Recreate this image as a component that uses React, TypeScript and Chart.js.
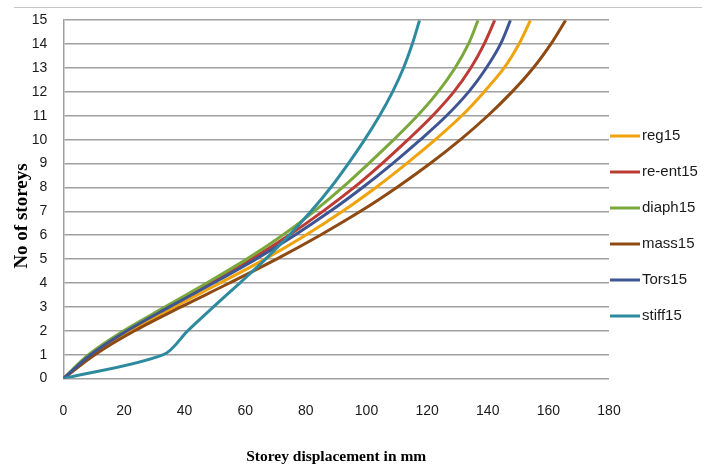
import React, { useEffect, useRef } from "react";
import { Chart, registerables } from "chart.js";

Chart.register(...registerables);

const storeys = [0, 1, 2, 3, 4, 5, 6, 7, 8, 9, 10, 11, 12, 13, 14, 15];
const seriesNames = ["reg15", "re-ent15", "diaph15", "mass15", "Tors15", "stiff15"];
const seriesColors = ["#F0A30A", "#BE3A34", "#7BA83C", "#8E4A12", "#3E5594", "#2E8A9E"];

const reg15 = [0, 9.5, 22, 36.5, 51.7, 66.5, 79.9, 92.1, 103.1, 113.2, 122.7, 131.4, 138.8, 145.4, 150.3, 154.1];
const reEnt15 = [0, 8.8, 20.8, 34.5, 48.5, 62.1, 74.4, 85.6, 95.9, 105.1, 113.7, 121.8, 128.8, 134.4, 138.8, 142.3];
const diaph15 = [0, 8.3, 19.9, 33.6, 47.3, 60.5, 72.3, 82.7, 92.1, 100.7, 109, 116.8, 123.6, 129.2, 133.6, 136.8];
const mass15 = [0, 10.4, 23.5, 38.8, 54.8, 70.3, 84.7, 98, 110, 121, 131, 140, 148, 155, 160.8, 165.7];
const tors15 = [0, 9, 21, 35, 49.5, 63.5, 76.3, 88, 98.7, 108.6, 117.8, 126.4, 133.7, 139.5, 144.2, 147.5];
const stiff15 = [0, 33, 41, 49.5, 58.2, 66.7, 74.5, 81.7, 88.2, 94, 99.4, 104.3, 108.6, 112.2, 115.1, 117.5];

const seriesValues = [reg15, reEnt15, diaph15, mass15, tors15, stiff15];

const xMin = 0;
const xMax = 180;
const xStep = 20;
const yMin = 0;
const yMax = 15;
const yStep = 1;

const xTitle = "Storey displacement in mm";
const yTitle = "No of storeys       ";

const sideLegend = {
  id: "sideLegend",
  afterDraw(chart: any) {
    const ctx = chart.ctx;
    const x0 = chart.chartArea.right + 1;
    chart.data.datasets.forEach((ds: any, i: number) => {
      const y = 136 + i * 36;
      ctx.save();
      ctx.strokeStyle = ds.borderColor;
      ctx.lineWidth = 3;
      ctx.beginPath();
      ctx.moveTo(x0, y);
      ctx.lineTo(x0 + 30, y);
      ctx.stroke();
      ctx.fillStyle = "#1a1a1a";
      ctx.font = '15px "Liberation Sans"';
      ctx.textBaseline = "middle";
      ctx.textAlign = "left";
      ctx.fillText(ds.label, x0 + 32, y);
      ctx.restore();
    });
  },
};

export default function App() {
  const canvasRef = useRef<HTMLCanvasElement | null>(null);

  useEffect(() => {
    if (!canvasRef.current) return;
    const datasets = seriesNames.map((name, i) => ({
      label: name,
      data: storeys.map((s, k) => ({ x: seriesValues[i][k], y: s })),
      borderColor: seriesColors[i],
      backgroundColor: seriesColors[i],
      borderWidth: 3,
      pointRadius: 0,
      pointHoverRadius: 0,
      fill: false,
      tension: 0.33,
      order: seriesNames.length - i,
    }));

    const xTickFont = { family: '"Liberation Sans"', size: 14 };
    const yTickFont = { family: '"Liberation Sans"', size: 14, lineHeight: 0.6 };
    const titleFont = { family: '"Liberation Serif"', weight: "bold" as const };

    const chart = new Chart(canvasRef.current, {
      type: "line",
      data: { datasets },
      plugins: [sideLegend],
      options: {
        indexAxis: "y",
        animation: false,
        responsive: false,
        maintainAspectRatio: false,
        layout: { padding: { left: 11, right: 108, top: 4, bottom: 2 } },
        plugins: {
          legend: { display: false },
          tooltip: { enabled: false },
        },
        scales: {
          x: {
            type: "linear",
            min: xMin,
            max: xMax,
            ticks: { stepSize: xStep, padding: 24, font: xTickFont, color: "#1a1a1a" },
            grid: { display: false, drawTicks: false },
            border: { display: false },
            title: {
              display: true,
              text: xTitle,
              color: "#000",
              font: { ...titleFont, size: 15.5 },
              padding: { top: 4, bottom: 0 },
            },
          },
          y: {
            type: "linear",
            min: yMin,
            max: yMax,
            ticks: { stepSize: yStep, padding: 16, font: yTickFont, color: "#1a1a1a" },
            grid: { color: "#a0a0a0", lineWidth: 1.5, drawTicks: false },
            border: { display: true, color: "#a0a0a0", width: 1.5 },
            title: {
              display: true,
              text: yTitle,
              color: "#000",
              font: { ...titleFont, size: 19 },
              padding: { top: 0, bottom: -18 },
            },
          },
        },
      },
    });
    return () => chart.destroy();
  }, []);

  return (
    <div style={{ position: "absolute", left: 0, top: 0, width: 717, height: 468, background: "#fff" }}>
      <div
        style={{
          position: "absolute",
          left: 14,
          top: 7,
          width: 688,
          height: 0,
          borderTop: "1.5px solid #c4c4c4",
        }}
      />
      <canvas ref={canvasRef} width={717} height={468} style={{ width: 717, height: 468, display: "block" }} />
    </div>
  );
}
